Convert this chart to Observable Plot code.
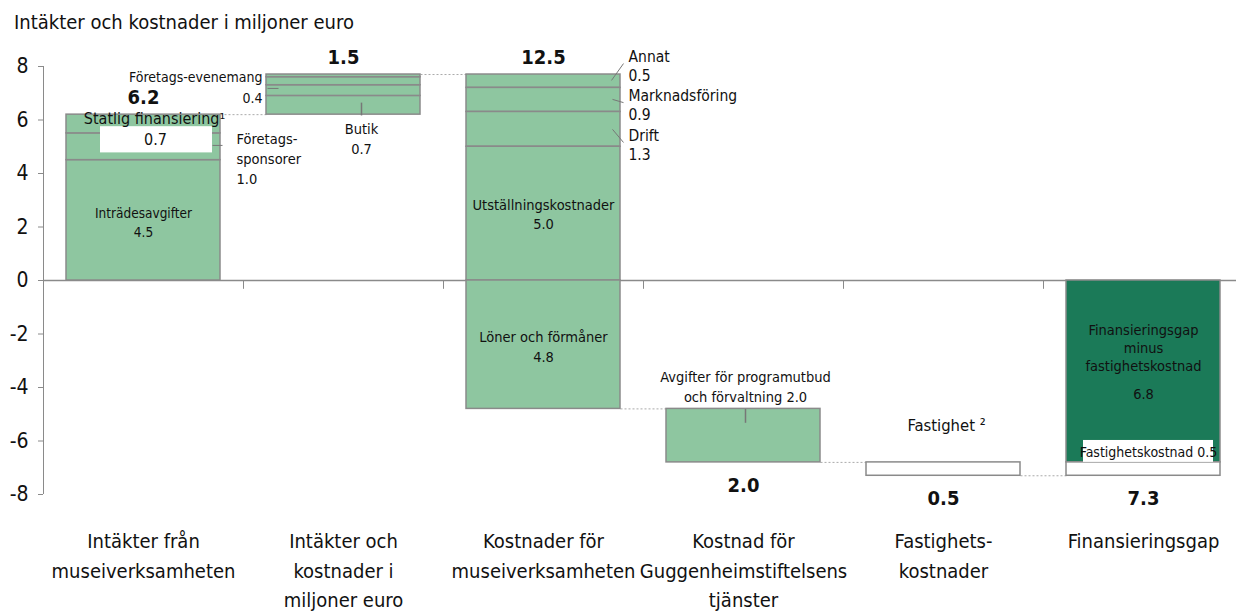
<!DOCTYPE html>
<html><head><meta charset="utf-8">
<script src="https://cdn.jsdelivr.net/npm/d3@7"></script>
<script src="https://cdn.jsdelivr.net/npm/@observablehq/plot@0.6"></script>
<style>
body{margin:0;background:#fff;font-family:"Liberation Sans Narrow","Arial Narrow","DejaVu Sans Condensed",sans-serif;color:#111;}
#title{box-sizing:border-box;height:32px;padding:12px 0 0 14px;font-size:20px;line-height:20px;white-space:nowrap;}
#chart svg{display:block;}
</style></head><body>
<div id="title">Intäkter och kostnader i miljoner euro</div>
<div id="chart"></div>
<script>
// ---- data ----
const categories = [
  "Intäkter från\nmuseiverksamheten",
  "Intäkter och\nkostnader i\nmiljoner euro",
  "Kostnader för\nmuseiverksamheten",
  "Kostnad för\nGuggenheimstiftelsens\ntjänster",
  "Fastighets-\nkostnader",
  "Finansieringsgap"
];
const barTotals = [6.2, 1.5, 12.5, 2.0, 0.5, 7.3];
const barDirection = [1, 1, -1, -1, -1, -1];
const barFromZero = [false, false, false, false, false, true];

const segBar   = [0, 0, 0, 1, 1, 1, 1, 2, 2, 2, 2, 2, 3, 4, 5, 5];
const segName  = ["Inträdesavgifter", "Företagssponsorer", "Statlig finansiering",
                  "Butik", "Företagsevenemang", "Övrigt 1", "Övrigt 2",
                  "Annat", "Marknadsföring", "Drift", "Utställningskostnader", "Löner och förmåner",
                  "Avgifter", "Fastighet", "Finansieringsgap minus fastighetskostnad", "Fastighetskostnad"];
const segLabel = ["Inträdesavgifter", "Företags-\nsponsorer", "Statlig finansiering¹",
                  "Butik", "Företags-evenemang", "", "",
                  "Annat", "Marknadsföring", "Drift", "Utställningskostnader", "Löner och förmåner",
                  "Avgifter för programutbud\noch förvaltning", "Fastighet ²", "Finansieringsgap\nminus\nfastighetskostnad", "Fastighetskostnad"];
const segValue = [4.5, 1.0, 0.7, 0.7, 0.4, 0.3, 0.1, 0.5, 0.9, 1.3, 5.0, 4.8, 2.0, 0.5, 6.8, 0.5];
const segKind  = ["intakt", "intakt", "intakt", "intakt", "intakt", "intakt", "intakt",
                  "kostnad", "kostnad", "kostnad", "kostnad", "kostnad", "kostnad",
                  "fastighet", "gap", "fastighet"];
const yTicks = [-8, -6, -4, -2, 0, 2, 4, 6, 8];

// ---- build waterfall ----
const segs = [], bars = [], links = [];
let level = 0;
categories.forEach((c, i) => {
  let cur = barFromZero[i] ? 0 : level;
  const start = cur;
  segName.forEach((n, j) => {
    if (segBar[j] !== i) return;
    const y1 = cur;
    cur = +(cur + barDirection[i] * segValue[j]).toFixed(6);
    segs.push({bar: i, name: n, label: segLabel[j], value: segValue[j], kind: segKind[j],
               y1, y2: cur, lo: Math.min(y1, cur), hi: Math.max(y1, cur), mid: (y1 + cur) / 2});
  });
  bars.push({bar: i, total: barTotals[i], top: Math.max(start, cur), bottom: Math.min(start, cur)});
  if (i < categories.length - 1) links.push({bar: i, level: cur});
  level = cur;
});
const seg = name => segs.find(s => s.name === name);
const fmt = d3.format(".1f");

const GRAY = "#8a8a8a";
const HW = 0.385; // half bar width (band units)
const FONT = "Liberation Sans Narrow, Arial Narrow, DejaVu Sans Condensed, sans-serif";

function lbl(name, at, text, o) {
  return Plot.text([seg(name)], {x: "bar", y: d => d[at], text, fill: "#111", ...o});
}
function leader(name, f, o = {}) {
  return Plot.link([seg(name)], {
    x1: d => d.bar + f[0], y1: d => d[f[1]] + f[2],
    x2: d => d.bar + f[3], y2: d => d[f[1]] + f[4],
    stroke: "#777", strokeWidth: 1, ...o
  });
}

const chart = Plot.plot({
  width: 1236, height: 581,
  marginTop: 34, marginBottom: 119, marginLeft: 43, marginRight: 0,
  style: {fontFamily: FONT, background: "white", color: "#111", overflow: "visible"},
  x: {domain: [-0.5, 5.5], range: [43, 1243], axis: null},
  y: {domain: [-8, 8], axis: null},
  color: {domain: ["intakt", "kostnad", "fastighet", "gap"], range: ["#8ec6a0", "#8ec6a0", "#ffffff", "#1b7a58"]},
  marks: [
    Plot.ruleY([0], {stroke: GRAY, strokeWidth: 1.5}),
    Plot.ruleX(d3.range(0.5, 5, 1), {y1: 0, y2: -0.33, stroke: GRAY}),
    Plot.ruleX([-0.5], {y1: -8, y2: 8, stroke: GRAY}),
    Plot.axisY({ticks: yTicks, tickFormat: d => String(d), tickSize: 5, tickPadding: 10,
                fontSize: 21, stroke: GRAY, fill: "#111", label: null}),
    Plot.axisX({ticks: d3.range(categories.length), tickFormat: i => categories[i], tickSize: 0,
                tickPadding: 33, fontSize: 20, lineHeight: 1.47, fill: "#111", label: null}),
    Plot.link(links, {x1: d => d.bar + HW, x2: d => d.bar + 1 - HW, y1: "level", y2: "level",
                      stroke: "#aaa", strokeDasharray: "2,2"}),
    Plot.rect(segs, {x1: d => d.bar - HW, x2: d => d.bar + HW, y1: "y1", y2: "y2",
                     fill: "kind", stroke: GRAY, strokeWidth: 1.5}),
    // white label backgrounds
    Plot.rect([seg("Statlig finansiering")], {x1: d => d.bar - 0.215, x2: d => d.bar + 0.345,
               y1: d => d.mid - 0.1, y2: d => d.mid - 1.08, fill: "white"}),
    Plot.rect([seg("Fastighetskostnad")], {x1: d => d.bar - 0.30, x2: d => d.bar + 0.35,
               y1: d => d.hi, y2: d => d.hi + 0.82, fill: "white"}),
    // leader lines
    leader("Företagssponsorer", [0.345, "mid", 0.05, 0.395, 0.05]),
    leader("Företagsevenemang", [-0.38, "mid", 0.08, -0.325, 0.08]),
    leader("Butik", [0.09, "lo", -0.03, 0.09, 0.45], {strokeWidth: 1.5}),
    leader("Annat", [0.34, "mid", 0.03, 0.40, 0.66]),
    leader("Marknadsföring", [0.345, "mid", 0.02, 0.40, -0.10]),
    leader("Drift", [0.345, "mid", 0.0, 0.40, -0.49]),
    leader("Avgifter", [0.01, "hi", 0, 0.01, -0.52], {strokeWidth: 1.5}),
    // segment labels
    lbl("Inträdesavgifter", "mid", d => `${d.label}\n${fmt(d.value)}`, {fontSize: 13.5, lineHeight: 1.4, dy: 1}),
    lbl("Företagssponsorer", "mid", d => `${d.label}\n${fmt(d.value)}`, {fontSize: 14.5, lineHeight: 1.38, dy: 11, dx: 93, textAnchor: "start"}),
    lbl("Statlig finansiering", "mid", d => d.label, {fontSize: 16, dy: -5.5, dx: 11}),
    lbl("Statlig finansiering", "mid", d => fmt(d.value), {fontSize: 16, dy: 16, dx: 12}),
    lbl("Butik", "lo", d => `${d.label}\n${fmt(d.value)}`, {fontSize: 14.5, lineHeight: 1.38, dy: 23, dx: 18}),
    lbl("Företagsevenemang", "mid", d => `${d.label}\n${fmt(d.value)}`, {fontSize: 14, lineHeight: 1.45, dy: -4.5, dx: -81, textAnchor: "end"}),
    lbl("Annat", "mid", d => `${d.label}\n${fmt(d.value)}`, {fontSize: 15.5, lineHeight: 1.22, dy: -16, dx: 85, textAnchor: "start"}),
    lbl("Marknadsföring", "mid", d => `${d.label}\n${fmt(d.value)}`, {fontSize: 15.5, lineHeight: 1.22, dy: 4.6, dx: 85, textAnchor: "start"}),
    lbl("Drift", "mid", d => `${d.label}\n${fmt(d.value)}`, {fontSize: 15.5, lineHeight: 1.22, dy: 15, dx: 85, textAnchor: "start"}),
    lbl("Utställningskostnader", "mid", d => `${d.label}\n${fmt(d.value)}`, {fontSize: 14.5, lineHeight: 1.33, dy: 0}),
    lbl("Löner och förmåner", "mid", d => `${d.label}\n${fmt(d.value)}`, {fontSize: 14.5, lineHeight: 1.33, dy: 1}),
    lbl("Avgifter", "hi", d => `${d.label} ${fmt(d.value)}`, {fontSize: 14.5, lineHeight: 1.33, dy: -23, dx: 2}),
    lbl("Fastighet", "hi", d => d.label, {fontSize: 16.5, dy: -37, dx: 3}),
    lbl("Finansieringsgap minus fastighetskostnad", "mid", d => d.label, {fontSize: 14.5, lineHeight: 1.24, dy: -24}),
    lbl("Finansieringsgap minus fastighetskostnad", "mid", d => fmt(d.value), {fontSize: 14.5, dy: 23}),
    lbl("Fastighetskostnad", "hi", d => `${d.label} ${fmt(d.value)}`, {fontSize: 14, dy: -10, dx: 5}),
    // totals
    Plot.text(bars.filter(b => b.bar < 3), {x: "bar", y: "top", text: d => fmt(d.total), dy: -17,
              fontSize: 20, fontWeight: "bold", fill: "#111"}),
    Plot.text(bars.filter(b => b.bar >= 3), {x: "bar", y: "bottom", text: d => fmt(d.total), dy: 23,
              fontSize: 20, fontWeight: "bold", fill: "#111"})
  ]
});
document.getElementById("chart").appendChild(chart);
</script></body></html>
